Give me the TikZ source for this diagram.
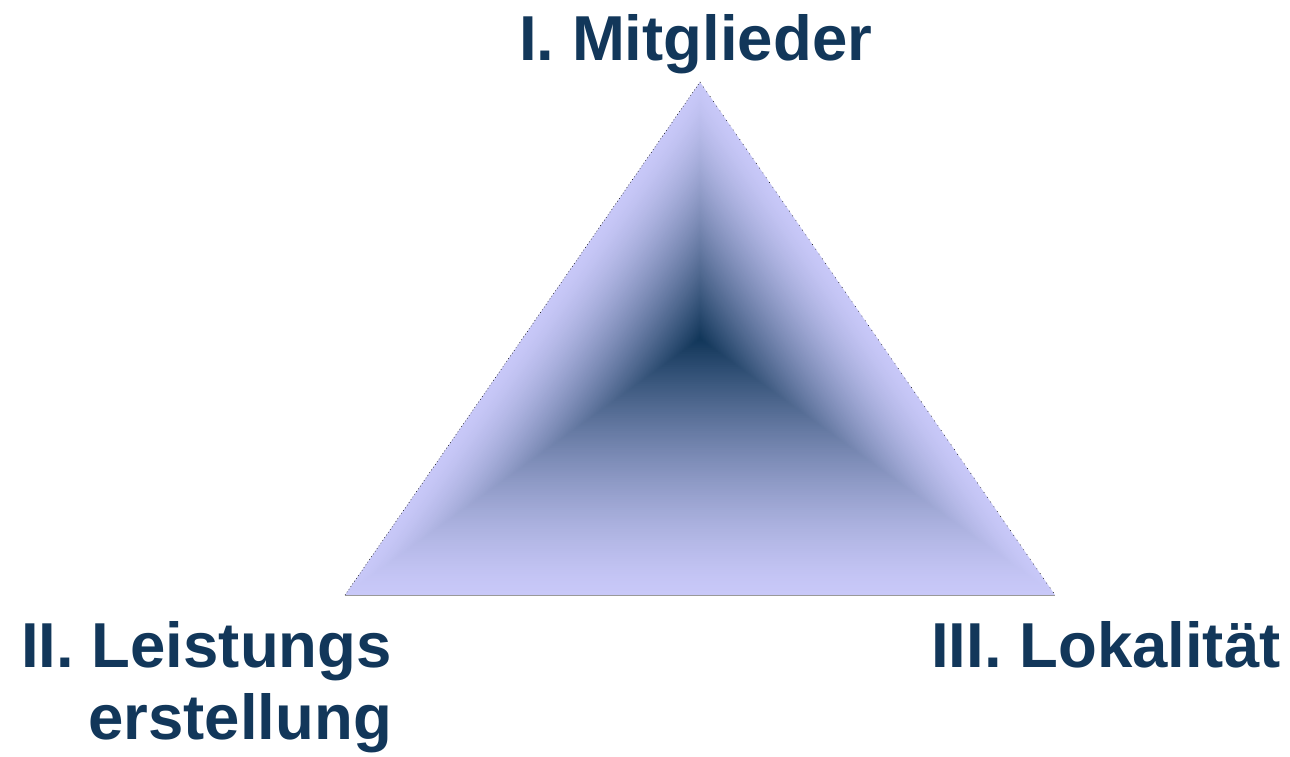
\documentclass[tikz,border=0pt]{standalone}
\usepackage{fontspec}
\setmainfont{Liberation Sans}
\usetikzlibrary{calc}
\definecolor{navy}{HTML}{12375A}
\definecolor{lav}{HTML}{C8C8F8}
\begin{document}
\begin{tikzpicture}[x=1pt,y=-1pt,
  lbl/.style={text=navy, font=\fontsize{63.5}{71.5}\selectfont\bfseries, inner sep=0pt}]
\useasboundingbox (0,0) rectangle (1290,756);
\coordinate (A) at (700,82);
\coordinate (B) at (345,595);
\coordinate (C) at (1055,595);
\coordinate (M) at (700,339);
\foreach \i in {0,...,119}{
  \pgfmathsetmacro\s{1-\i/120}
  \pgfmathsetmacro\p{100*(\i/119)^1.4}
  \fill[navy!\p!lav] ($(M)!\s!(A)$) -- ($(M)!\s!(B)$) -- ($(M)!\s!(C)$) -- cycle;
}
\draw[black!40, line width=0.8pt] (B) -- (C);
\draw[black, line width=0.5pt, dash pattern=on 0.8pt off 2.5pt] (B) -- (A);
\draw[black, line width=0.5pt, dash pattern=on 0.8pt off 5pt] (A) -- (C);
\node[lbl, anchor=base west] (mit) at (519,60) {I. Mitglieder};
\node[lbl, anchor=base west] (lok) at (931,667) {III. Lokalität};
\node[lbl, align=right, anchor=north east] (leis) at (392,621.5) {II. Leistungs\\erstellung};
\end{tikzpicture}
\end{document}
